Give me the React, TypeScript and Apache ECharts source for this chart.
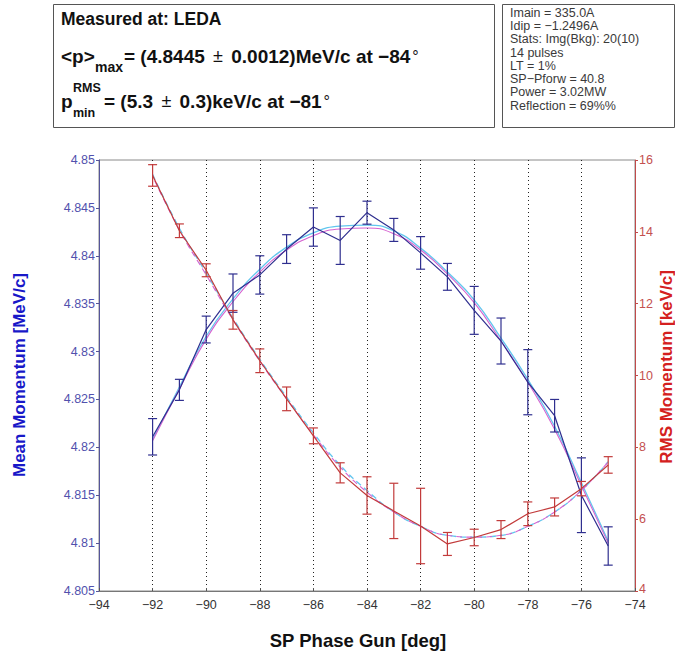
import React, { useEffect, useRef } from 'react';
import * as echarts from 'echarts';

// ---------- data ----------
const phases = [-92, -91, -90, -89, -88, -87, -86, -85, -84, -83, -82, -81, -80, -79, -78, -77, -76, -75];

const meanMomentum = [4.8211, 4.8260, 4.8323, 4.8361, 4.8380, 4.8407, 4.8430, 4.8416, 4.8445, 4.8427, 4.8403, 4.8378, 4.8343, 4.8311, 4.8268, 4.8233, 4.8150, 4.8097];
const meanErr = [0.0019, 0.0011, 0.0014, 0.0020, 0.0020, 0.0015, 0.0020, 0.0025, 0.0012, 0.0012, 0.0017, 0.0014, 0.0025, 0.0024, 0.0034, 0.0017, 0.0039, 0.0020];
const meanFitCyan = [4.8208, 4.8263, 4.8316, 4.8355, 4.8386, 4.8409, 4.8424, 4.8431, 4.8432, 4.8426, 4.8408, 4.8383, 4.8354, 4.8314, 4.8271, 4.8222, 4.8163, 4.8102];
const meanFitMagenta = [4.8207, 4.8261, 4.8313, 4.8352, 4.8383, 4.8406, 4.8421, 4.8428, 4.8429, 4.8423, 4.8406, 4.8381, 4.8351, 4.8311, 4.8268, 4.8219, 4.8160, 4.8100];

const rmsMomentum = [15.57, 14.03, 12.93, 11.55, 10.41, 9.35, 8.32, 7.29, 6.66, 6.23, 5.81, 5.31, 5.49, 5.71, 6.15, 6.34, 6.85, 7.51];
const rmsErr = [0.30, 0.19, 0.18, 0.26, 0.33, 0.33, 0.22, 0.28, 0.52, 0.77, 1.05, 0.32, 0.23, 0.25, 0.33, 0.25, 0.20, 0.23];
const rmsFitCyan = [15.6, 14.1, 12.85, 11.6, 10.45, 9.4, 8.4, 7.5, 6.8, 6.2, 5.8, 5.55, 5.5, 5.55, 5.8, 6.2, 6.8, 7.6];
const rmsFitMagenta = [15.55, 14.05, 12.8, 11.55, 10.4, 9.35, 8.35, 7.45, 6.75, 6.2, 5.8, 5.55, 5.5, 5.55, 5.8, 6.2, 6.8, 7.6];

const xRange = [-94, -74, 2];
const meanRange = [4.805, 4.85, 0.005];
const rmsRange = [4, 16, 2];

const infoLines = [
  'Imain = 335.0A',
  'Idip = \u22121.2496A',
  'Stats: Img(Bkg): 20(10)',
  '14 pulses',
  'LT = 1%',
  'SP\u2212Pforw = 40.8',
  'Power = 3.02MW',
  'Reflection = 69%%',
];

const FONT = "'Liberation Sans', Arial, Helvetica, sans-serif";
const BLUE_DATA = '#2f2f8f';
const RED_DATA = '#c23b3b';
const CYAN = '#62c6ee';
const MAGENTA = '#d563d0';

function pairs(ys: number[]) {
  return phases.map((x, i) => [x, ys[i]]);
}
function errData(ys: number[], es: number[]) {
  return phases.map((x, i) => [x, ys[i] - es[i], ys[i] + es[i]]);
}
function errRenderer(color: string) {
  return (params: any, api: any) => {
    const x = api.value(0);
    const lo = api.coord([x, api.value(1)]);
    const hi = api.coord([x, api.value(2)]);
    const hw = 4.5;
    const style = { stroke: color, lineWidth: 1.2 };
    return {
      type: 'group',
      children: [
        { type: 'line', shape: { x1: lo[0], y1: lo[1], x2: hi[0], y2: hi[1] }, style },
        { type: 'line', shape: { x1: lo[0] - hw, y1: lo[1], x2: lo[0] + hw, y2: lo[1] }, style },
        { type: 'line', shape: { x1: hi[0] - hw, y1: hi[1], x2: hi[0] + hw, y2: hi[1] }, style },
      ],
    };
  };
}
const minus = (s: string) => s.replace('-', '\u2212');

function txt(text: string, x: number, y: number, size: number, weight: string, fill: string, extra: any = {}) {
  return {
    type: 'text',
    x,
    y,
    ...extra,
    style: { text, fontSize: size, fontWeight: weight, fontFamily: FONT, fill, align: 'left', verticalAlign: 'middle', ...(extra.style || {}) },
  };
}

export default function App() {
  const ref = useRef<HTMLDivElement>(null);
  useEffect(() => {
    const chart = echarts.init(ref.current!, null, { renderer: 'svg' });
    const richMain = {
      b: { fontSize: 19, fontWeight: 'bold', fontFamily: FONT, fill: '#111' },
      pm: { fontSize: 18, fontWeight: 'normal', fontFamily: FONT, fill: '#111', padding: [0, 3, 0, 3] },
      deg: { fontSize: 16, fontWeight: 'normal', fontFamily: FONT, fill: '#111', padding: [0, 0, 0, 2] },
    };
    const option: any = {
      animation: false,
      backgroundColor: '#fff',
      grid: { left: 99, right: 40, top: 160, bottom: 63, show: true, borderColor: '#8a8a8a', borderWidth: 1 },
      xAxis: {
        type: 'value',
        min: xRange[0],
        max: xRange[1],
        interval: xRange[2],
        axisLine: { show: true, lineStyle: { color: '#777', width: 1 } },
        axisTick: { show: true, inside: true, length: 3, lineStyle: { color: '#555' } },
        axisLabel: { color: '#333', fontSize: 12.5, fontFamily: FONT, margin: 7, formatter: (v: number) => minus(String(v)) },
        splitLine: { show: true, lineStyle: { color: '#222', type: [1, 3], width: 1 } },
      },
      yAxis: [
        {
          type: 'value',
          min: meanRange[0],
          max: meanRange[1],
          interval: meanRange[2],
          position: 'left',
          axisLine: { show: true, lineStyle: { color: '#55559a', width: 1 } },
          axisTick: { show: true, length: 3, lineStyle: { color: '#55559a' } },
          axisLabel: { color: '#5151ad', fontSize: 12.5, fontFamily: FONT, margin: 4, formatter: (v: number) => parseFloat(v.toFixed(4)).toString() },
          splitLine: { show: false },
        },
        {
          type: 'value',
          min: rmsRange[0],
          max: rmsRange[1],
          interval: rmsRange[2],
          position: 'right',
          axisLine: { show: true, lineStyle: { color: '#c04a4a', width: 1 } },
          axisTick: { show: true, length: 3, lineStyle: { color: '#c04a4a' } },
          axisLabel: {
            color: '#c45050',
            fontSize: 12.5,
            fontFamily: FONT,
            margin: 4,
            formatter: (v: number) => (v === rmsRange[0] ? '{lo|' + v + '}' : String(v)),
            rich: { lo: { color: '#c45050', fontSize: 12.5, fontFamily: FONT, padding: [0, 0, 5, 0] } },
          },
          splitLine: { show: false },
        },
      ],
      series: [
        { type: 'line', data: pairs(meanFitCyan), yAxisIndex: 0, smooth: true, showSymbol: false, lineStyle: { color: CYAN, width: 1.3 }, z: 2 },
        { type: 'line', data: pairs(meanFitMagenta), yAxisIndex: 0, smooth: true, showSymbol: false, lineStyle: { color: MAGENTA, width: 1.1 }, z: 2 },
        { type: 'line', data: pairs(rmsFitCyan), yAxisIndex: 1, smooth: true, showSymbol: false, lineStyle: { color: CYAN, width: 1.3, type: [6, 4] }, z: 2 },
        { type: 'line', data: pairs(rmsFitMagenta), yAxisIndex: 1, smooth: true, showSymbol: false, lineStyle: { color: MAGENTA, width: 1.1, type: [6, 4], dashOffset: 5 }, z: 2 },
        { type: 'line', data: pairs(meanMomentum), yAxisIndex: 0, showSymbol: false, lineStyle: { color: BLUE_DATA, width: 1.2 }, z: 3 },
        { type: 'line', data: pairs(rmsMomentum), yAxisIndex: 1, showSymbol: false, lineStyle: { color: RED_DATA, width: 1.2 }, z: 3 },
        { type: 'custom', yAxisIndex: 0, data: errData(meanMomentum, meanErr), encode: { x: 0, y: [1, 2] }, renderItem: errRenderer(BLUE_DATA), z: 4 },
        { type: 'custom', yAxisIndex: 1, data: errData(rmsMomentum, rmsErr), encode: { x: 0, y: [1, 2] }, renderItem: errRenderer(RED_DATA), z: 4 },
      ],
      graphic: [
        { type: 'rect', shape: { x: 53.5, y: 4.5, width: 441, height: 123 }, style: { fill: '#fff', stroke: '#555', lineWidth: 1 } },
        { type: 'rect', shape: { x: 502.5, y: 4.5, width: 172, height: 123 }, style: { fill: '#fff', stroke: '#555', lineWidth: 1 } },
        txt('Measured at: LEDA', 61, 19, 17.5, 'bold', '#111'),
        txt('<p>', 61, 56, 19, 'bold', '#111'),
        txt('max', 95, 67, 14, 'bold', '#111'),
        {
          type: 'text',
          x: 124,
          y: 56,
          style: { text: '{b|= (4.8445 }{pm|\u00b1}{b| 0.0012)MeV/c at \u221284}{deg|\u00b0}', rich: richMain, align: 'left', verticalAlign: 'middle' },
        },
        txt('p', 61, 101, 19, 'bold', '#111'),
        txt('RMS', 73, 88, 12.5, 'bold', '#111'),
        txt('min', 73, 113, 12.5, 'bold', '#111'),
        {
          type: 'text',
          x: 104,
          y: 101,
          style: { text: '{b|= (5.3 }{pm|\u00b1}{b| 0.3)keV/c at \u221281}{deg|\u00b0}', rich: richMain, align: 'left', verticalAlign: 'middle' },
        },
        {
          type: 'text',
          x: 510,
          y: 6,
          style: { text: infoLines.join('\n'), fontSize: 12.5, fontFamily: FONT, fill: '#3a3a3a', lineHeight: 13.3, align: 'left', verticalAlign: 'top' },
        },
        txt('Mean Momentum [MeV/c]', 19, 375, 17, 'bold', '#1818c8', { rotation: Math.PI / 2, style: { align: 'center' } }),
        txt('RMS Momentum [keV/c]', 666, 367, 17, 'bold', '#d42020', { rotation: Math.PI / 2, style: { align: 'center' } }),
        txt('SP Phase Gun [deg]', 358, 640, 18.5, 'bold', '#111', { style: { align: 'center' } }),
      ],
    };
    chart.setOption(option);
    return () => chart.dispose();
  }, []);
  return <div ref={ref} style={{ position: 'absolute', left: 0, top: 0, width: 675, height: 654, background: '#fff' }} />;
}
